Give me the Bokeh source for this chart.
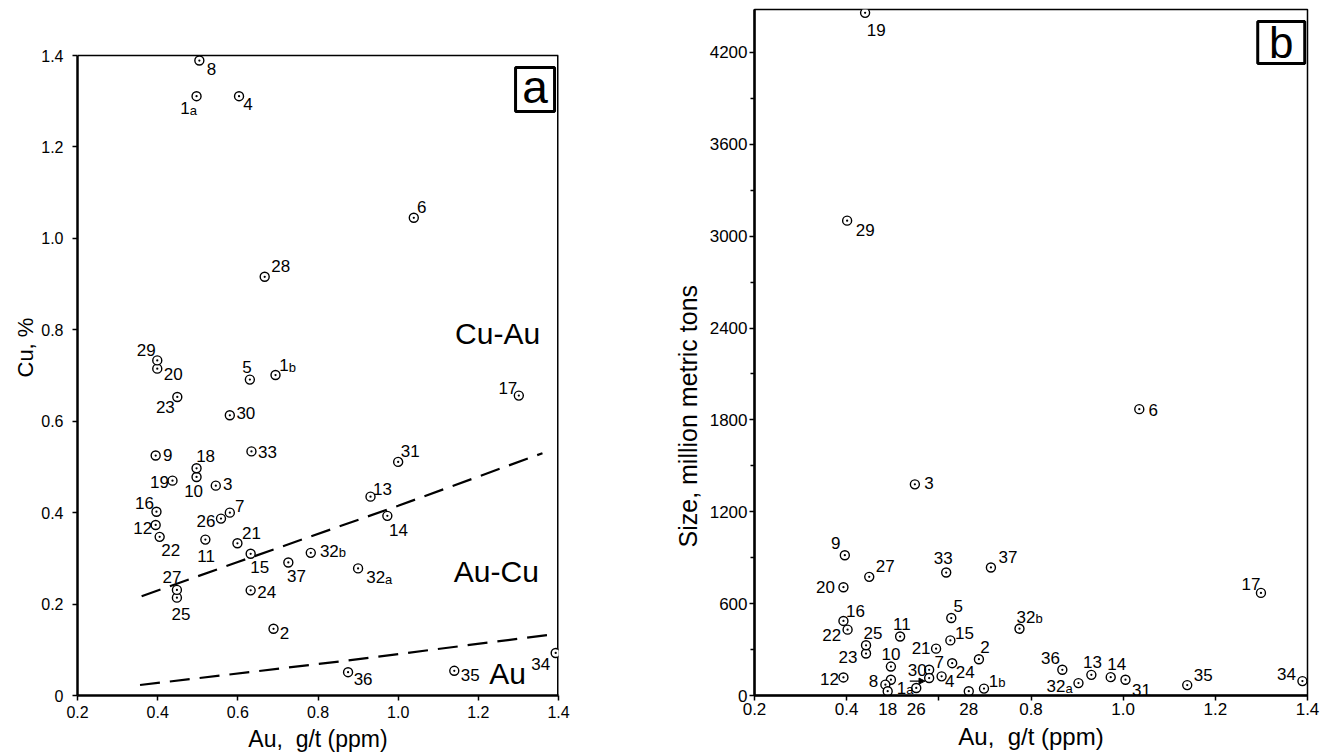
import re
from bokeh.plotting import figure
from bokeh.layouts import row
from bokeh.models import ColumnDataSource, FixedTicker, Title, Arrow, NormalHead
from bokeh.core.properties import value
from bokeh.embed import file_html
from bokeh.resources import INLINE

FONT = "Liberation Sans"

# ---------------- data: panel a (Au vs Cu) ----------------
ids = ["1a", "1b", "2", "3", "4", "5", "6", "7", "8", "9", "10", "11", "12", "13",
       "14", "15", "16", "17", "18", "19", "20", "21", "22", "23", "24", "25", "26",
       "27", "28", "29", "30", "31", "32a", "32b", "33", "34", "35", "36", "37"]

a_au = [0.497, 0.694, 0.689, 0.545, 0.603, 0.630, 1.039, 0.580, 0.504, 0.395, 0.497,
        0.519, 0.395, 0.931, 0.973, 0.632, 0.397, 1.301, 0.497, 0.437, 0.399, 0.599,
        0.405, 0.449, 0.632, 0.448, 0.558, 0.448, 0.667, 0.399, 0.580, 1.000, 0.900,
        0.782, 0.634, 1.393, 1.140, 0.875, 0.726]
a_cu = [1.311, 0.701, 0.146, 0.459, 1.311, 0.691, 1.045, 0.400, 1.389, 0.525, 0.478,
        0.341, 0.373, 0.435, 0.393, 0.310, 0.402, 0.656, 0.497, 0.470, 0.715, 0.333,
        0.347, 0.653, 0.230, 0.214, 0.387, 0.231, 0.916, 0.733, 0.613, 0.511, 0.278,
        0.312, 0.534, 0.093, 0.054, 0.051, 0.291]

# boundary curves between fields
upper_au = [0.36, 0.60, 1.00, 1.36]
upper_cu = [0.217, 0.292, 0.415, 0.530]
lower_au = [0.356, 0.87, 1.378]
lower_cu = [0.023, 0.076, 0.133]

field_names = ["Cu-Au", "Au-Cu", "Au"]
field_au = [1.248, 1.245, 1.273]
field_cu = [0.792, 0.272, 0.048]

# ---------------- data: panel b (Au vs size) ----------------
b_au = [0.496, 0.698, 0.687, 0.548, 0.606, 0.627, 1.035, 0.579, 0.484, 0.396, 0.496,
        0.516, 0.393, 0.931, 0.973, 0.625, 0.393, 1.299, 0.489, 0.440, 0.393, 0.594,
        0.402, 0.442, 0.629, 0.442, 0.551, 0.449, 0.665, 0.401, 0.579, 1.005, 0.903,
        0.775, 0.616, 1.389, 1.139, 0.868, 0.713]
b_size = [103, 45, 237, 1379, 125, 506, 1870, 168, 71, 916, 189, 385, 118, 135, 120,
          360, 487, 670, 28, 4458, 707, 306, 430, 274, 211, 328, 49, 775, 28, 3101,
          114, 103, 81, 436, 803, 94, 68, 168, 836]
# deposits whose numbers sit below the x axis of panel b
b_below_axis = ["18", "26", "28"]

x_ticks = [0.2, 0.4, 0.6, 0.8, 1.0, 1.2, 1.4]
x_tick_labels = ["0.2", "0.4", "0.6", "0.8", "1.0", "1.2", "1.4"]
a_y_ticks = [0, 0.2, 0.4, 0.6, 0.8, 1.0, 1.2, 1.4]
a_y_tick_labels = ["0", "0.2", "0.4", "0.6", "0.8", "1.0", "1.2", "1.4"]
a_x_lim = (0.2, 1.4)
a_y_lim = (0, 1.4)
b_y_ticks = [0, 600, 1200, 1800, 2400, 3000, 3600, 4200]
b_y_minor = [300, 900, 1500, 2100, 2700, 3300, 3900]
b_y_tick_labels = ["0", "600", "1200", "1800", "2400", "3000", "3600", "4200"]

# ---------------- label placement (screen px, +dy = down) ----------------
a_off = {"1a": (-8, 12), "1b": (12, -10), "2": (11, 4), "3": (12, -2), "4": (9, 8),
         "5": (-3, -13), "6": (8, -11), "7": (10, -7), "8": (12, 8), "9": (12, -1),
         "10": (-3, 14), "11": (0, 16), "12": (-13, 3), "13": (12, -8), "14": (11, 14),
         "15": (9, 13), "16": (-12, -9), "17": (-11, -8), "18": (9, -12), "19": (-13, 1),
         "20": (16, 5), "21": (14, -10), "22": (11, 13), "23": (-12, 10), "24": (16, 2),
         "25": (4, 16), "26": (-15, 2), "27": (-5, -13), "28": (16, -11), "29": (-11, -10),
         "30": (16, -2), "31": (12, -11), "32a": (21, 9), "32b": (22, -2), "33": (16, 1),
         "34": (-15, 11), "35": (16, 4), "36": (15, 7), "37": (8, 14)}
b_off = {"1a": (14, 8), "1b": (13, -8), "2": (6, -12), "3": (14, -1), "4": (8, 5),
         "5": (7, -12), "6": (14, 1), "7": (10, -8), "8": (-12, -4), "9": (-9, -12),
         "10": (0, -13), "11": (1, -13), "12": (-14, 2), "13": (1, -13), "14": (6, -13),
         "15": (14, -7), "16": (12, -10), "17": (-10, -9), "18": (1, 13), "19": (11, 17),
         "20": (-18, 0), "21": (-15, -1), "22": (-16, 5), "23": (-18, 3), "24": (13, 9),
         "25": (7, -12), "26": (0, 17), "27": (16, -11), "28": (0, 14), "29": (18, 9),
         "30": (-12, -8), "31": (16, 10), "32a": (-19, 3), "32b": (10, -12), "33": (-3, -15),
         "34": (-16, -7), "35": (16, -10), "36": (-12, -12), "37": (17, -10)}

DIGIT_W = 9.5   # approx width of a digit at 17px
SUF_W = 7.0     # approx width of a small suffix letter at 13px


def style(p, xl, tick_font, title_font):
    p.background_fill_color = "white"
    p.border_fill_color = "white"
    p.outline_line_color = "black"
    p.outline_line_width = 1.5
    p.xgrid.visible = False
    p.ygrid.visible = False
    for ax in (p.xaxis[0], p.yaxis[0]):
        ax.axis_line_width = 2.5
        ax.axis_line_color = "black"
        ax.major_tick_line_width = 1.5
        ax.major_tick_in = 0
        ax.major_tick_out = 5
        ax.minor_tick_line_color = None
        ax.major_label_text_font = FONT
        ax.major_label_text_font_size = tick_font
        ax.major_label_text_color = "black"
        ax.axis_label_text_font = FONT
        ax.axis_label_text_font_style = "normal"
        ax.axis_label_text_color = "black"
    p.xaxis.axis_label = xl
    p.xaxis.axis_label_text_font_size = title_font
    p.xaxis.ticker = FixedTicker(ticks=x_ticks)


def points(p, xs, ys, off, skip=()):
    num, suf, nx, dys = [], [], [], []
    for i in ids:
        m = re.match(r"(\d+)([a-z]*)", i)
        n, s = m.group(1), m.group(2)
        dx, dy = off[i]
        w = len(n) * DIGIT_W + (SUF_W if s else 0)
        num.append("" if i in skip else n)
        suf.append("" if i in skip else s)
        nx.append(dx + w / 2 - (SUF_W if s else 0))
        dys.append(dy)
    src = ColumnDataSource(dict(x=xs, y=ys, n=num, s=suf, nx=nx, dy=dys,
                                sdy=[d + 2 for d in dys]))
    p.scatter("x", "y", source=src, marker="circle_dot", size=9, line_color="black",
              line_width=1.4, fill_color="white")
    p.text("x", "y", text="n", source=src, x_offset="nx", y_offset="dy",
           text_align="right", text_baseline="middle", text_font=value(FONT),
           text_font_size="17px", text_color="black")
    p.text("x", "y", text="s", source=src, x_offset="nx", y_offset="sdy",
           text_align="left", text_baseline="middle", text_font=value(FONT),
           text_font_size="13px", text_color="black")


def side_title(p, text, size, offset, standoff):
    p.add_layout(Title(text=text, align="left", offset=offset, standoff=standoff,
                       text_font=FONT, text_font_size=size, text_font_style="normal",
                       text_color="black"), "left")


TOP = 9
FRAME_H = 686
BOTTOM = 58

# ---------------- panel a ----------------
# frame shares top/bottom with panel b (row alignment); the visible box ends at Cu = 1.4
a_px_per_unit = 640 / 1.4
pa = figure(frame_width=481, frame_height=FRAME_H, x_range=a_x_lim,
            y_range=(0, FRAME_H / a_px_per_unit),
            output_backend="svg", toolbar_location=None, title=None, min_border_left=77,
            min_border_right=101, min_border_top=TOP, min_border_bottom=BOTTOM)
style(pa, "Au,\u00a0 g/t (ppm)", "16px", "23px")
pa.outline_line_color = None
pa.xaxis.major_label_standoff = 5
pa.xaxis.axis_label_standoff = 5
pa.yaxis.ticker = FixedTicker(ticks=a_y_ticks)
pa.yaxis.bounds = a_y_lim
pa.yaxis.major_label_overrides = dict(zip(a_y_ticks, a_y_tick_labels))
pa.xaxis.major_label_overrides = dict(zip(x_ticks, x_tick_labels))
pa.yaxis.major_label_standoff = 9
side_title(pa, "Cu, %", "22px", 318, 2)
# top and right edges of the panel box
pa.segment(x0=[a_x_lim[0], a_x_lim[1]], y0=[a_y_lim[1], a_y_lim[0]],
           x1=[a_x_lim[1], a_x_lim[1]], y1=[a_y_lim[1], a_y_lim[1]],
           line_color="black", line_width=[1.5, 3])

pa.line(upper_au, upper_cu, line_color="black", line_width=2.2, line_dash="20 10")
pa.line(lower_au, lower_cu, line_color="black", line_width=2.2, line_dash="20 10")
points(pa, a_au, a_cu, a_off)
pa.text(field_au, field_cu, text=field_names, text_align="center", text_baseline="middle",
        text_font=value(FONT), text_font_size="30px", text_color="black")
pa.rect([1.3415], [1.3254], width=39, height=44, width_units="screen", height_units="screen",
        fill_color="white", line_color="black", line_width=3)
pa.text([1.3415], [1.3254], text=["a"], text_align="center", text_baseline="middle",
        y_offset=-3, text_font=value(FONT), text_font_size="46px", text_color="black")

# ---------------- panel b ----------------
pb = figure(frame_width=553, frame_height=FRAME_H, x_range=(0.2, 1.4), y_range=(0, 4480),
            output_backend="svg", toolbar_location=None, title=None, min_border_left=95,
            min_border_right=14, min_border_top=TOP, min_border_bottom=BOTTOM)
style(pb, "Au,\u00a0 g/t (ppm)", "17px", "24px")
pb.xaxis.major_label_standoff = 2
pb.xaxis.axis_label_standoff = 5
# numbers of deposits lying on the axis are written in the tick-label band
below_x = [b_au[ids.index(k)] for k in b_below_axis]
b_x_labels = dict(zip(x_ticks, x_tick_labels))
b_x_labels[0.6] = ""
b_x_labels.update(dict(zip(below_x, b_below_axis)))
pb.xaxis.ticker = FixedTicker(ticks=x_ticks + below_x, minor_ticks=x_ticks)
pb.xaxis.major_label_overrides = b_x_labels
pb.xaxis.major_tick_line_color = None
pb.xaxis.minor_tick_line_color = "black"
pb.xaxis.minor_tick_line_width = 1.5
pb.xaxis.minor_tick_in = 0
pb.xaxis.minor_tick_out = 5
pb.yaxis.ticker = FixedTicker(ticks=b_y_ticks, minor_ticks=b_y_minor)
pb.yaxis.major_label_overrides = dict(zip(b_y_ticks, b_y_tick_labels))
pb.yaxis.minor_tick_line_color = "black"
pb.yaxis.minor_tick_line_width = 1.5
pb.yaxis.minor_tick_in = 0
pb.yaxis.minor_tick_out = 4
pb.yaxis.major_label_standoff = 2
side_title(pb, "Size, million metric tons", "25px", 148, 9)

points(pb, b_au, b_size, b_off, skip=b_below_axis)
# small arrow pointing at deposit 30
i30 = ids.index("30")
pb.add_layout(Arrow(end=NormalHead(size=6, fill_color="black", line_color="black"),
                    x_start=b_au[i30] - 0.042, y_start=b_size[i30] - 20,
                    x_end=b_au[i30] - 0.009, y_end=b_size[i30] - 20,
                    line_color="black", line_width=1.2))
pb.rect([1.343], [4264], width=47, height=42, width_units="screen", height_units="screen",
        fill_color="white", line_color="black", line_width=3)
pb.text([1.343], [4264], text=["b"], text_align="center", text_baseline="middle",
        y_offset=0, text_font=value(FONT), text_font_size="44px", text_color="black")

layout = row(pa, pb)
open("out.html", "w").write(file_html(layout, INLINE))
